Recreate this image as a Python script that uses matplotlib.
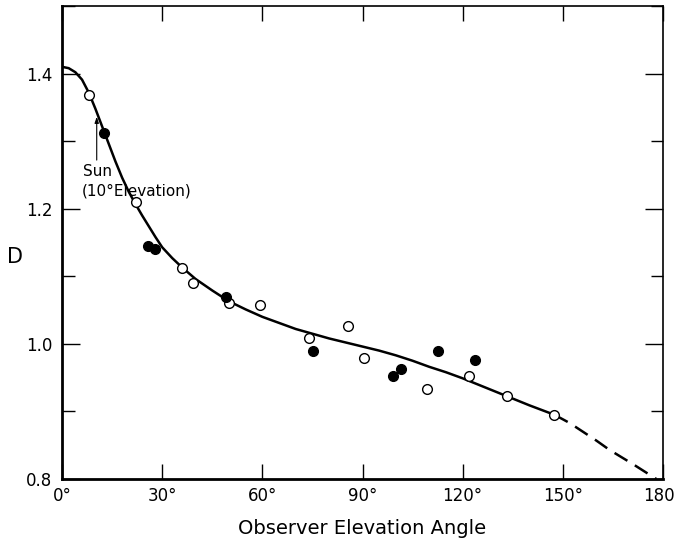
import matplotlib
matplotlib.use("Agg")
import matplotlib.pyplot as plt
from matplotlib.ticker import MultipleLocator

# open circles (observer elevation, D)
open_x = [8.0, 22.2, 35.9, 39.3, 50.0, 59.4, 74.0, 85.7, 90.5, 109.2, 121.9, 133.3, 147.4]
open_y = [1.369, 1.210, 1.113, 1.090, 1.061, 1.058, 1.008, 1.026, 0.979, 0.933, 0.952, 0.923, 0.895]

# filled circles
fill_x = [12.7, 25.7, 27.9, 49.1, 75.2, 99.0, 101.5, 112.7, 123.7]
fill_y = [1.312, 1.145, 1.141, 1.070, 0.989, 0.953, 0.963, 0.990, 0.976]

# fitted curve
curve_x = [0, 2, 4, 6, 8, 10, 12, 14, 16, 18, 20, 22, 24, 26, 28, 30, 33, 36, 40,
           45, 50, 55, 60, 65, 70, 75, 80, 85, 90, 95, 100, 105, 110, 115, 120,
           126, 133, 140, 147.5]
curve_y = [1.410, 1.408, 1.402, 1.391, 1.372, 1.348, 1.322, 1.296, 1.270, 1.246,
           1.225, 1.207, 1.190, 1.174, 1.158, 1.143, 1.127, 1.113, 1.096, 1.079,
           1.063, 1.051, 1.040, 1.031, 1.022, 1.015, 1.008, 1.002, 0.996, 0.990,
           0.983, 0.975, 0.966, 0.958, 0.949, 0.937, 0.923, 0.909, 0.895]

# extrapolated (dashed) part
dash_x = [147.5, 152.0, 156.0, 160.0, 164.0, 168.0, 171.0, 174.5, 178.0]
dash_y = [0.895, 0.883, 0.870, 0.857, 0.843, 0.831, 0.822, 0.811, 0.800]

xticks = [0, 30, 60, 90, 120, 150, 180]
xlabels = ["0°", "30°", "60°", "90°", "120°", "150°", "180°"]
yticks = [0.8, 1.0, 1.2, 1.4]
ylabels = ["0.8", "1.0", "1.2", "1.4"]

plt.rcParams["font.family"] = "DejaVu Sans"

fig = plt.figure(figsize=(6.76, 5.43), dpi=100)
ax = fig.add_axes([62 / 676, 1 - 479 / 543, (663 - 62) / 676, (479 - 6) / 543])

ax.plot(curve_x, curve_y, color="black", lw=1.8, solid_joinstyle="round", zorder=2)
ax.plot(dash_x, dash_y, color="black", lw=1.8, dashes=(6, 3.5), zorder=2)

ax.plot(open_x, open_y, "o", ms=7, mfc="white", mec="black", mew=1.0, ls="none", zorder=3)
ax.plot(fill_x, fill_y, "o", ms=7, mfc="black", mec="black", mew=1.0, ls="none", zorder=3)

# sun marker
ax.annotate("", xy=(10.4, 1.336), xytext=(10.4, 1.272),
            arrowprops=dict(arrowstyle="-|>,head_length=0.35,head_width=0.12",
                            color="black", lw=0.8, shrinkA=0, shrinkB=0))
ax.text(6.3, 1.255, "Sun", fontsize=11, ha="left", va="center")
ax.text(6.0, 1.226, "(10°Elevation)", fontsize=11, ha="left", va="center")

ax.set_xlim(0, 180)
ax.set_ylim(0.8, 1.5)

ax.set_xticks(xticks)
ax.set_xticklabels(xlabels, fontsize=12)
ax.set_yticks(yticks)
ax.set_yticklabels(ylabels, fontsize=12)
ax.yaxis.set_minor_locator(MultipleLocator(0.1))

ax.tick_params(axis="x", which="major", direction="in", length=11, width=1.0,
               top=True, bottom=True, pad=6)
ax.tick_params(axis="y", which="major", direction="in", length=13, width=1.0,
               left=True, right=True, pad=7)
ax.tick_params(axis="y", which="minor", direction="in", length=9, width=1.0,
               left=True, right=True)

for side in ["left", "bottom"]:
    ax.spines[side].set_linewidth(2.0)
for side in ["top", "right"]:
    ax.spines[side].set_linewidth(1.2)

ax.set_xlabel("Observer Elevation Angle", fontsize=14, labelpad=10)
fig.text(15 / 676, 1 - 257 / 543, "D", fontsize=15, ha="center", va="center")

fig.savefig("out.png", dpi=100)
